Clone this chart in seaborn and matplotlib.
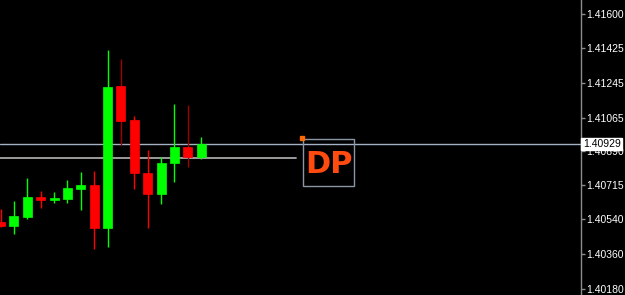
import matplotlib
matplotlib.use("Agg")
import matplotlib.pyplot as plt
import seaborn as sns
import numpy as np
import pandas as pd
from matplotlib.patches import Rectangle

# ---- data ----
opens  = [1.40526, 1.40505, 1.40552, 1.40655, 1.40640, 1.40645, 1.40696, 1.40717,
          1.40495, 1.41228, 1.41053, 1.40779, 1.40670, 1.40831, 1.40913, 1.40862]
highs  = [1.40593, 1.40634, 1.40753, 1.40686, 1.40681, 1.40743, 1.40784, 1.40789,
          1.41414, 1.41368, 1.41073, 1.40898, 1.40862, 1.41135, 1.41130, 1.40965]
lows   = [1.40500, 1.40464, 1.40541, 1.40598, 1.40624, 1.40624, 1.40588, 1.40386,
          1.40397, 1.40924, 1.40696, 1.40495, 1.40619, 1.40732, 1.40810, 1.40851]
closes = [1.40505, 1.40557, 1.40655, 1.40640, 1.40650, 1.40701, 1.40717, 1.40495,
          1.41223, 1.41047, 1.40779, 1.40670, 1.40831, 1.40913, 1.40862, 1.40929]
dark_wick = [False, False, False, False, False, False, False, False,
             False, True, False, False, False, False, True, False]
tick_values = [1.41600, 1.41425, 1.41245, 1.41065, 1.40890, 1.40715, 1.40540, 1.40360, 1.40180]
current_price = 1.40929
grey_level = 1.40856
label_text = "DP"

df = pd.DataFrame({"idx": np.arange(len(opens)), "open": opens, "high": highs,
                   "low": lows, "close": closes, "dark": dark_wick})

sns.set_style("dark", {"axes.facecolor": "black", "figure.facecolor": "black"})
plt.rcParams['font.family'] = ['Liberation Sans', 'DejaVu Sans']

fig = plt.figure(figsize=(6.25, 2.95), dpi=100, facecolor="black")
ax = fig.add_axes([0, 0, 581/625, 1])
ax.set_facecolor("black")

px = 13.38  # pixels per candle
ax.set_xlim(-0.04, 581/px - 0.04)
ax.set_ylim(1.40149, 1.41672)

GREEN = "#00ff00"
RED = "#ff0000"

# horizontal lines
ax.axhline(current_price, color="#a4b2c6", lw=1.0, zorder=1)
ax.plot([-0.04, 295/px], [grey_level, grey_level], color="#a8a8a8", lw=1.3, zorder=1)

for _, r in df.iterrows():
    up = r["close"] >= r["open"]
    col = GREEN if up else RED
    wcol = "#a00000" if r["dark"] else col
    ax.vlines(r["idx"], r["low"], r["high"], color=wcol, lw=1.0, zorder=2)
    bottom = min(r["open"], r["close"])
    height = max(abs(r["close"] - r["open"]), 0.00004)
    ax.bar(r["idx"], height, bottom=bottom, width=9/px, color=col,
           edgecolor=col, linewidth=0.5, zorder=3)

# DP box
x0 = 303/px - 0.04
x1 = 354/px - 0.04
yy = lambda ypix: 1.41672 - ypix * (1.41672 - 1.40149) / 295
ax.add_patch(Rectangle((x0, yy(186)), x1 - x0, yy(139) - yy(186), fill=False,
                       edgecolor="#8a96a4", lw=1.0, zorder=4))
ax.plot([302/px - 0.04], [yy(138)], marker="s", ms=2.5, color="#ff6a00", zorder=5)
ax.text((x0 + x1) / 2, yy(164), label_text, color="#ff4a10", fontsize=22,
        fontweight="bold", family="DejaVu Sans", ha="center", va="center", zorder=5)

# right axis
for s in ["top", "left", "bottom"]:
    ax.spines[s].set_visible(False)
ax.spines["right"].set_visible(True)
ax.spines["right"].set_color("#8c8c8c")
ax.spines["right"].set_linewidth(1.0)
ax.set_xticks([])
ax.yaxis.tick_right()
ax.set_yticks(tick_values)
ax.set_yticklabels([f"{v:.5f}" for v in tick_values])
ax.tick_params(axis="y", colors="#8c8c8c", labelcolor="white", length=3, width=1,
               pad=1, labelsize=7.5, direction="out")
ax.grid(False)

ax.text(1.003, current_price, f"{current_price:.5f}", transform=ax.get_yaxis_transform(),
        color="black", fontsize=7.5, ha="left", va="center", zorder=6,
        bbox=dict(boxstyle="square,pad=0.12", facecolor="white", edgecolor="white"))

fig.savefig("out.png", dpi=100, facecolor="black")
